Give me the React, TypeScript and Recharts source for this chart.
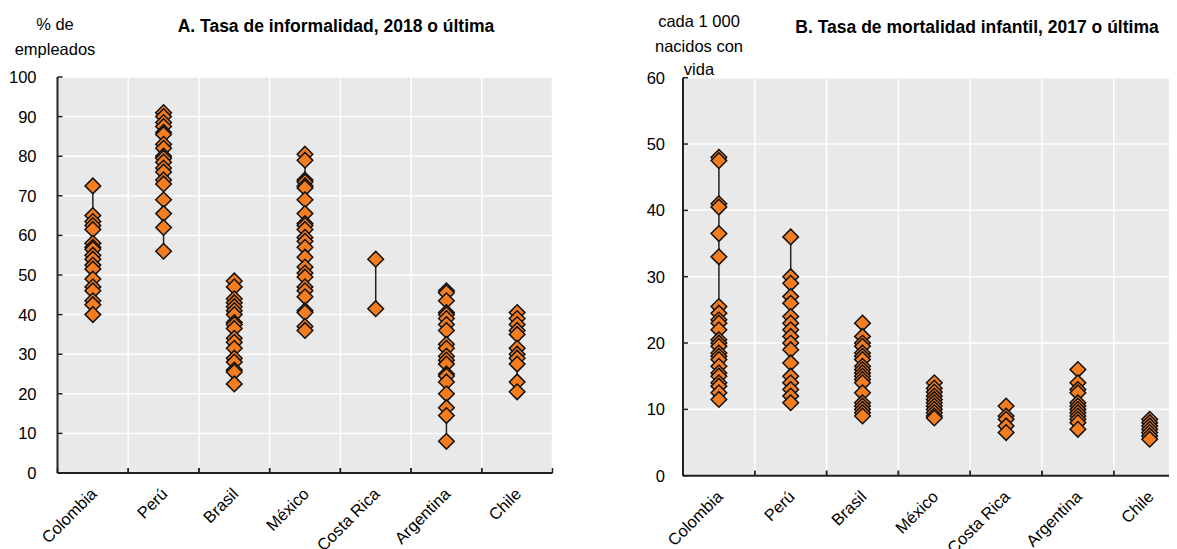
import { ScatterChart, Scatter, XAxis, YAxis, CartesianGrid } from "recharts";

const paises = ["Colombia", "Perú", "Brasil", "México", "Costa Rica", "Argentina", "Chile"];

// A. Tasa de informalidad (% de empleados), por región
const colombiaInf = [72.5, 65, 63.5, 62.5, 61.5, 58, 57, 56.5, 55, 54, 52.5, 51.5, 49, 47, 46, 43.5, 42.5, 40];
const peruInf = [91, 90, 88.5, 87.5, 86, 85.5, 83, 82, 80, 79.5, 78.5, 77, 76, 74, 73, 69, 65.5, 62, 56];
const brasilInf = [48.5, 47, 44, 43, 42, 41, 40, 38, 37.5, 36.5, 34, 33, 31.5, 29, 28, 26, 25.5, 22.5];
const mexicoInf = [80.5, 79, 74, 73.5, 72.5, 72, 69, 65.5, 63, 62.5, 61.5, 59.5, 58.5, 57, 54.5, 52, 50.5, 49.5, 47, 46, 44.5, 41, 40.5, 37, 36];
const costaRicaInf = [54, 41.5];
const argentinaInf = [46, 45.5, 43.5, 40.5, 40, 39, 37.5, 36, 32.5, 31.5, 29.5, 28.5, 27.5, 25, 24.5, 23, 20, 16.5, 14.5, 8];
const chileInf = [40.5, 39, 37.5, 36, 35, 31.5, 30, 29, 27.5, 23, 20.5];

// B. Tasa de mortalidad infantil (cada 1 000 nacidos con vida)
const colombiaMort = [48, 47.5, 41, 40.5, 36.5, 33, 25.5, 24.5, 23.5, 23, 22, 20.5, 20, 19.5, 18.5, 18, 17.5, 16.5, 15.5, 15, 14, 13.5, 12.5, 11.5];
const peruMort = [36, 30, 29, 27, 26, 24, 23, 22, 21, 20, 19, 17, 15, 14, 13, 12, 11];
const brasilMort = [23, 21, 20, 19.5, 18.5, 18, 17.5, 16.5, 16, 15.5, 15, 14.5, 14, 12.5, 11, 10.5, 10, 9.5, 9];
const mexicoMort = [14, 13.2, 12.6, 12, 11.5, 11, 10.5, 10, 9.5, 9, 8.7];
const costaRicaMort = [10.5, 9, 8.5, 7.5, 6.5];
const argentinaMort = [16, 14, 13, 12.5, 11, 10.5, 10, 9.5, 9, 8.5, 8, 7];
const chileMort = [8.5, 8, 7.5, 7, 6.5, 6, 5.5];

const ticksInf = [0, 10, 20, 30, 40, 50, 60, 70, 80, 90, 100];
const ticksMort = [0, 10, 20, 30, 40, 50, 60];

const informalidad = [colombiaInf, peruInf, brasilInf, mexicoInf, costaRicaInf, argentinaInf, chileInf];
const mortalidad = [colombiaMort, peruMort, brasilMort, mexicoMort, costaRicaMort, argentinaMort, chileMort];

const ORANGE = "#F47D20";
const FONT = '"Liberation Sans", Arial, sans-serif';

function Diamond(props: any) {
  const { cx, cy } = props;
  const r = 7.8;
  return (
    <path
      d={`M${cx},${cy - r}L${cx + r},${cy}L${cx},${cy + r}L${cx - r},${cy}Z`}
      fill={ORANGE}
      stroke="#111"
      strokeWidth={1.5}
    />
  );
}

function XTick(props: any) {
  const { x, y, payload, halfBand } = props;
  const ax = x + 5;
  const ay = y + 22;
  return (
    <g>
      <line x1={x - halfBand} x2={x - halfBand} y1={y} y2={y - 5} stroke="#222" strokeWidth={1.5} />
      <line x1={x + halfBand} x2={x + halfBand} y1={y} y2={y - 5} stroke="#222" strokeWidth={1.5} />
      <text
        x={ax}
        y={ay}
        transform={`rotate(-45 ${ax} ${ay})`}
        textAnchor="end"
        fontSize={16.5}
        fontFamily={FONT}
        fill="#000"
      >
        {paises[payload.value]}
      </text>
    </g>
  );
}

function YTick(props: any) {
  const { x, y, payload, gap } = props;
  return (
    <g>
      <line x1={x} x2={x + 5} y1={y} y2={y} stroke="#222" strokeWidth={1.5} />
      <text x={x - gap} y={y} dy="0.36em" textAnchor="end" fontSize={16.5} fontFamily={FONT} fill="#000">
        {payload.value}
      </text>
    </g>
  );
}

interface PanelProps {
  series: number[][];
  yTicks: number[];
  left: number;
  margin: { top: number; right: number; bottom: number; left: number };
  gap: number;
}

const W = 600;
const H = 549;
const Y_W = 50;
const X_H = 60;

function Panel({ series, yTicks, left, margin, gap }: PanelProps) {
  const plotW = W - margin.left - margin.right - Y_W;
  const halfBand = plotW / paises.length / 2;
  const bounds = Array.from({ length: paises.length + 1 }, (_, k) => k);
  return (
    <div style={{ position: "absolute", left, top: 0 }}>
      <ScatterChart width={W} height={H} margin={margin}>
        <CartesianGrid
          fill="#e9e9e9"
          fillOpacity={1}
          stroke="#fff"
          strokeWidth={1.5}
          verticalCoordinatesGenerator={({ offset }: any) =>
            bounds.map((k) => offset.left + (k * offset.width) / paises.length)
          }
        />
        <XAxis
          type="number"
          dataKey="x"
          domain={[-0.5, paises.length - 0.5]}
          ticks={paises.map((_, i) => i)}
          interval={0}
          height={X_H}
          tickSize={0}
          tickMargin={0}
          tickLine={false}
          axisLine={{ stroke: "#222", strokeWidth: 2 }}
          tick={(p: any) => <XTick {...p} halfBand={halfBand} />}
        />
        <YAxis
          type="number"
          dataKey="y"
          domain={[0, yTicks[yTicks.length - 1]]}
          ticks={yTicks}
          interval={0}
          width={Y_W}
          tickSize={0}
          tickMargin={0}
          tickLine={false}
          axisLine={{ stroke: "#222", strokeWidth: 2 }}
          tick={(p: any) => <YTick {...p} gap={gap} />}
        />
        {series.map((vals, i) => (
          <Scatter
            key={paises[i]}
            data={vals.map((y) => ({ x: i, y }))}
            shape={<Diamond />}
            line={{ stroke: "#222", strokeWidth: 1.5 }}
            isAnimationActive={false}
          />
        ))}
      </ScatterChart>
    </div>
  );
}

export default function App() {
  return (
    <div
      style={{
        position: "relative",
        width: 1177,
        height: 549,
        margin: "-8px 0 0 -8px",
        overflow: "hidden",
        background: "#fff",
        fontFamily: FONT,
      }}
    >
      <Panel
        series={informalidad}
        yTicks={ticksInf}
        left={0}
        margin={{ top: 77, right: 47.5, bottom: 16, left: 7.5 }}
        gap={21}
      />
      <Panel
        series={mortalidad}
        yTicks={ticksMort}
        left={620}
        margin={{ top: 77.7, right: 34.4, bottom: 13.3, left: 13 }}
        gap={18}
      />
      <svg width={1177} height={100} style={{ position: "absolute", left: 0, top: 0 }}>
        <g fontFamily={FONT} fontSize={16.5} fill="#000" textAnchor="middle">
          <text x={55} y={30}>% de</text>
          <text x={55} y={55}>empleados</text>
          <text x={336} y={32} fontSize={17.5} fontWeight="bold">A. Tasa de informalidad, 2018 o última</text>
          <text x={699} y={27}>cada 1 000</text>
          <text x={699} y={52}>nacidos con</text>
          <text x={699} y={75}>vida</text>
          <text x={977} y={33} fontSize={17.5} fontWeight="bold">B. Tasa de mortalidad infantil, 2017 o última</text>
        </g>
      </svg>
    </div>
  );
}
